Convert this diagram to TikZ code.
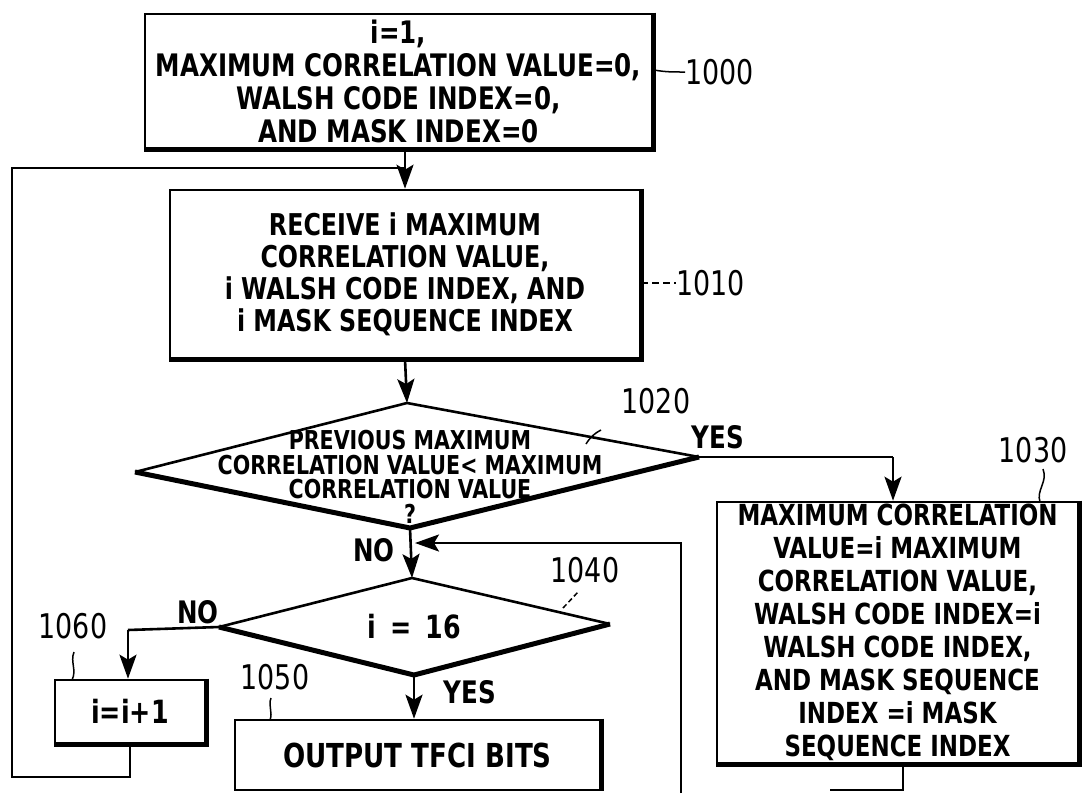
\documentclass[tikz,border=0pt]{standalone}
\usepackage{fontspec}
\newfontfamily\lab[FakeStretch=0.88]{DejaVu Sans Condensed}
\usetikzlibrary{arrows.meta}
\begin{document}
\begin{tikzpicture}[x=1pt,y=-1pt,
  box/.style={draw, line width=2.6pt, inner sep=0pt, align=center},
  txt/.style={font=\lab\bfseries\fontsize{31}{33}\selectfont},
  dtxt/.style={font=\lab\bfseries\fontsize{26}{24.5}\selectfont, align=center, inner sep=0pt},
  lbl/.style={font=\lab\fontsize{34}{34}\selectfont, inner sep=0pt},
  ylbl/.style={font=\lab\bfseries\fontsize{31}{31}\selectfont, inner sep=0pt},
  ln/.style={line width=2.6pt},
  shad/.style={line width=5pt},
  arr/.style={line width=2.6pt, -{Stealth[length=24pt,width=17pt,inset=5pt]}},
  lead/.style={line width=1.5pt}]
\useasboundingbox (0,0) rectangle (1083,793);

% box 1000
\node[box, txt, minimum width=507pt, minimum height=134pt] (b1000) at (398.5,81)
  {i=1,\\MAXIMUM CORRELATION VALUE=0,\\WALSH CODE INDEX=0,\\AND MASK INDEX=0};
\draw[shad] (b1000.north east) -- (b1000.south east) -- (b1000.south west);
\coordinate (l1000a) at (654,70);
\node[lbl, anchor=west] (t1000) at (685,72) {1000};
\draw[lead] (l1000a) to[out=-10,in=180] (t1000.west);

% box 1010
\node[box, txt, font=\lab\bfseries\fontsize{30}{32}\selectfont, minimum width=470pt, minimum height=168pt] (b1010) at (405,274)
  {RECEIVE i MAXIMUM\\CORRELATION VALUE,\\i WALSH CODE INDEX, AND\\i MASK SEQUENCE INDEX};
\draw[shad] (b1010.north east) -- (b1010.south east) -- (b1010.south west);
\node[lbl, anchor=west] (t1010) at (676,283) {1010};
\draw[lead, dash pattern=on 7pt off 4pt] (b1010.east |- t1010.west) -- (t1010.west);

% arrow 1000 -> 1010 and loop junction
\draw[arr] (b1000.south -| b1010.north) -- (b1010.north);

% diamond 1020
\coordinate (d1t) at (407,403);
\coordinate (d1r) at (699,457);
\coordinate (d1b) at (410,528);
\coordinate (d1l) at (135,472);
\draw[ln] (d1l) -- (d1t) -- (d1r);
\draw[shad] (d1l) -- (d1b) -- (d1r);
\node[dtxt] (d1txt) at (410,477)
  {PREVIOUS MAXIMUM\\CORRELATION VALUE< MAXIMUM\\CORRELATION VALUE\\?};
\draw[arr] (b1010.south) -- (d1t);
\node[lbl] (t1020) at (656,401) {1020};
\coordinate (l1020a) at (586,444);
\coordinate (l1020b) at (601,430);
\draw[lead] (l1020a) to[bend left=15] (l1020b);
\node[ylbl] (yes1) at (718,437) {YES};

% box 1030
\node[box, txt, minimum width=361pt, minimum height=261pt, font=\lab\bfseries\fontsize{29}{33}\selectfont] (b1030) at (897.5,632.5)
  {MAXIMUM CORRELATION\\VALUE=i MAXIMUM\\CORRELATION VALUE,\\WALSH CODE INDEX=i\\WALSH CODE INDEX,\\AND MASK SEQUENCE\\INDEX =i MASK\\SEQUENCE INDEX};
\draw[shad] (b1030.north east) -- (b1030.south east) -- (b1030.south west);
\coordinate (y1c) at (893,457);
\draw[ln] (d1r) -- (y1c);
\draw[arr] (y1c) -- (y1c |- b1030.north);
\node[lbl] (t1030) at (1033,450) {1030};
\coordinate (l1030a) at (1040,502);
\coordinate (l1030b) at (1043,469);
\draw[lead] (l1030a) .. controls (1036,490) and (1048,482) .. (l1030b);
\coordinate (b30c1) at (903,790);
\coordinate (b30c2) at (830,790);
\draw[ln] (b1030.south -| b30c1) -- (b30c1) -- (b30c2);

% NO below 1020, arrow to 1040
\node[ylbl] (no1) at (374,550) {NO};
\coordinate (d2t) at (412,578);
\coordinate (d2r) at (610,624);
\coordinate (d2b) at (414,675);
\coordinate (d2l) at (219,627);
\draw[arr] (d1b) -- (d2t);
\draw[ln] (d2l) -- (d2t) -- (d2r);
\draw[shad] (d2l) -- (d2b) -- (d2r);
\node[font=\lab\bfseries\fontsize{32}{32}\selectfont, inner sep=0pt] (d2txt) at (414,627) {i \,=\, 16};
\node[lbl] (t1040) at (585,570) {1040};
\coordinate (l1040a) at (563,608);
\coordinate (l1040b) at (578,592);
\draw[lead, dash pattern=on 5pt off 3pt] (l1040a) -- (l1040b);

% feedback into line between 1020 and 1040
\coordinate (fb1) at (681,793);
\coordinate (fb2) at (681,543);
\coordinate (fb3) at (415,543);
\draw[arr] (fb1) -- (fb2) -- (fb3);

% box 1060
\node[box, minimum width=150pt, minimum height=63pt, font=\lab\bfseries\fontsize{32}{32}\selectfont] (b1060) at (130,711.5) {i=i+1};
\draw[shad] (b1060.north east) -- (b1060.south east) -- (b1060.south west);
\node[ylbl] (no2) at (198,612) {NO};
\coordinate (n2c) at (128,630);
\draw[ln] (d2l) -- (n2c);
\draw[arr] (n2c) -- (n2c |- b1060.north);
\node[lbl] (t1060) at (73,626) {1060};
\coordinate (l1060a) at (74,652);
\coordinate (l1060b) at (72,680);
\draw[lead] (l1060a) .. controls (70,662) and (77,670) .. (l1060b);

% loop back
\coordinate (lp1) at (130,777);
\coordinate (lp2) at (12,777);
\coordinate (lp3) at (12,168);
\coordinate (lp4) at (405,168);
\draw[ln] (b1060.south) -- (lp1) -- (lp2) -- (lp3) -- (lp4);

% output box 1050
\node[box, minimum width=365pt, minimum height=70pt, font=\lab\bfseries\fontsize{33}{33}\selectfont] (b1050) at (417.5,755) {OUTPUT TFCI BITS};
\draw[shad] (b1050.north east) -- (b1050.south east);
\draw[arr] (d2b) -- (d2b |- b1050.north);
\node[ylbl] (yes2) at (470,692) {YES};
\node[lbl] (t1050) at (275,677) {1050};
\coordinate (l1050a) at (271,698);
\coordinate (l1050b) at (270,720);
\draw[lead] (l1050a) .. controls (268,706) and (273,712) .. (l1050b);
\end{tikzpicture}
\end{document}
